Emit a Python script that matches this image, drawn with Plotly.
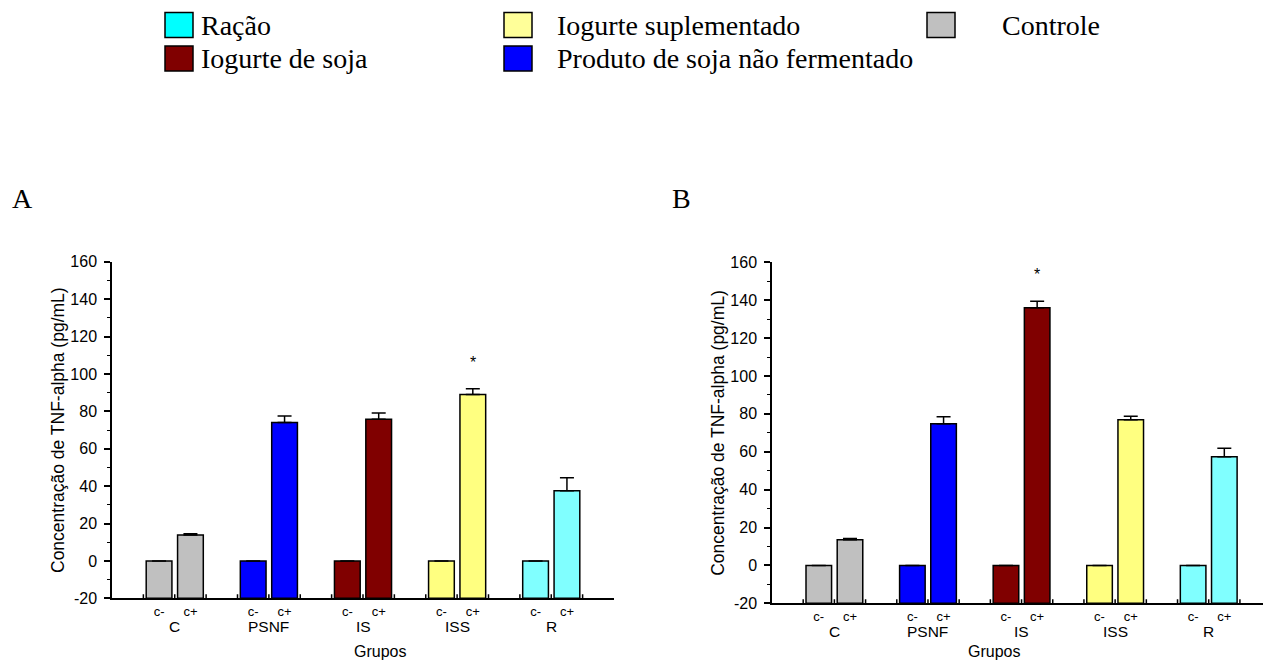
import plotly.graph_objects as go

# ---------------- data ----------------
groups = ["C", "PSNF", "IS", "ISS", "R"]
subgroups = ["c-", "c+"]
bar_colors = ["#C0C0C0", "#0000FF", "#800000", "#FFFF80", "#80FFFF"]

a_neg = [0, 0, 0, 0, 0]
a_pos = [13.8, 74.0, 75.8, 89.0, 37.5]
a_pos_err = [0.7, 3.5, 3.3, 3.0, 7.0]
a_star_group = "ISS"

b_neg = [0, 0, 0, 0, 0]
b_pos = [13.6, 74.8, 136.0, 76.9, 57.4]
b_pos_err = [0.6, 3.7, 3.5, 1.8, 4.5]
b_star_group = "IS"

y_base = -20
y_ticks = list(range(-20, 161, 20))
y_ticktext = [str(v) for v in y_ticks]  # plain hyphen for negatives

legend_labels = ["Ração", "Iogurte de soja", "Iogurte suplementado",
                 "Produto de soja não fermentado", "Controle"]
legend_colors = ["#00FFFF", "#800000", "#FFFF99", "#0000FF", "#C0C0C0"]

y_title = "Concentração de TNF-alpha (pg/mL)"
x_title = "Grupos"

# ---------------- layout helpers ----------------
W, H = 1263, 661
def px(x):
    return x / W
def py(y):
    return 1 - y / H

SANS = "Liberation Sans, Arial, sans-serif"
SERIF = "Liberation Serif, Times New Roman, serif"

fig = go.Figure()

panels = [
    dict(neg=a_neg, pos=a_pos, err=a_pos_err, star=a_star_group, xa="x", ya="y",
         xdom=[px(112), px(614)], ydom=[py(598.3), py(261.7)], xr=[0, 16],
         ytitle_x=58, grupos_x=352, grupos_shift=-53, label="A", label_x=22),
    dict(neg=b_neg, pos=b_pos, err=b_pos_err, star=b_star_group, xa="x2", ya="y2",
         xdom=[px(772), 1.0], ydom=[py(603.3), py(262.3)], xr=[0, 15.74],
         ytitle_x=718, grupos_x=1022, grupos_shift=-48, label="B", label_x=681),
]

shapes = []
annotations = []

for i, p in enumerate(panels):
    tickpos = []
    ticktext = []
    for g, name in enumerate(groups):
        xs = [3 * g + 1.5, 3 * g + 2.5]
        vals = [p["neg"][g], p["pos"][g]]
        errs = [0, p["err"][g]]
        fig.add_trace(go.Bar(
            x=xs, y=[v - y_base for v in vals], base=y_base,
            width=0.82, xaxis=p["xa"], yaxis=p["ya"], showlegend=False,
            marker=dict(color=bar_colors[g], line=dict(color="black", width=1.5)),
            error_y=dict(type="data", symmetric=False, array=errs,
                         arrayminus=[0, 0], color="black", thickness=1.5, width=7),
            name=name,
        ))
        tickpos += xs
        ticktext += subgroups
        # group crossing ticks
        for t in (3 * g + 1, 3 * g + 2, 3 * g + 3):
            shapes.append(dict(type="line", xref=p["xa"], yref=p["ya"],
                               x0=t, x1=t, ysizemode="pixel", yanchor=y_base,
                               y0=-5, y1=4, line=dict(color="black", width=1.5)))
        # group underline
        shapes.append(dict(type="line", xref=p["xa"], yref=p["ya"],
                           x0=3 * g + 1, x1=3 * g + 3, ysizemode="pixel",
                           yanchor=y_base, y0=-18, y1=-18,
                           line=dict(color="#333333", width=1.5)))
        annotations.append(dict(x=3 * g + 2, y=y_base, xref=p["xa"], yref=p["ya"],
                                text=name, showarrow=False, yanchor="top",
                                yshift=-18, font=dict(family=SANS, size=15.5, color="black")))
        if name == p["star"]:
            annotations.append(dict(x=3 * g + 2.5, y=vals[1] + errs[1], xref=p["xa"],
                                    yref=p["ya"], text="*", showarrow=False,
                                    yanchor="bottom", yshift=16,
                                    font=dict(family=SANS, size=16, color="black")))
    # minor x ticks between groups
    for g in range(len(groups) + 1):
        t = 3 * g + 0.5
        if t < p["xr"][1]:
            shapes.append(dict(type="line", xref=p["xa"], yref=p["ya"],
                               x0=t, x1=t, ysizemode="pixel", yanchor=y_base,
                               y0=-3, y1=0, line=dict(color="black", width=1)))

    xkey = "xaxis" if i == 0 else "xaxis2"
    ykey = "yaxis" if i == 0 else "yaxis2"
    fig.update_layout(**{
        xkey: dict(domain=p["xdom"], range=p["xr"], anchor=p["ya"], automargin=False,
                   showline=True, linecolor="black", linewidth=1.5,
                   tickmode="array", tickvals=tickpos, ticktext=ticktext, ticks="",
                   ticklabelstandoff=0,
                   tickfont=dict(family=SANS, size=13, color="black"),
                   showgrid=False, zeroline=False),
        ykey: dict(domain=p["ydom"], range=[-20, 160], anchor=p["xa"], automargin=False,
                   showline=True, linecolor="black", linewidth=1.5,
                   tickmode="array", tickvals=y_ticks, ticktext=y_ticktext,
                   ticks="outside", ticklen=6,
                   tickwidth=1.5, tickcolor="black", ticklabelstandoff=4,
                   minor=dict(tickmode="linear", tick0=-10, dtick=20, ticks="outside",
                              ticklen=3, tickwidth=1, tickcolor="black"),
                   tickfont=dict(family=SANS, size=16, color="black"),
                   showgrid=False, zeroline=False),
    })
    ymid = (p["ydom"][0] + p["ydom"][1]) / 2
    annotations.append(dict(x=px(p["ytitle_x"]), y=ymid, xref="paper", yref="paper",
                            text=y_title, textangle=-90, showarrow=False,
                            xanchor="center", yanchor="middle",
                            font=dict(family=SANS, size=17.5, color="black")))
    annotations.append(dict(x=px(p["grupos_x"]), y=y_base, xref="paper", yref=p["ya"],
                            text=x_title, showarrow=False, yanchor="middle",
                            yshift=p["grupos_shift"],
                            font=dict(family=SANS, size=16, color="black")))
    annotations.append(dict(x=px(p["label_x"]), y=py(198), xref="paper", yref="paper",
                            text=p["label"], showarrow=False, xanchor="center",
                            yanchor="middle", font=dict(family=SERIF, size=28, color="black")))

# ---------------- manual legend ----------------
legend_pos = [  # (box_left, row_center, text_left)
    (165, 25, 199),
    (165, 58.5, 199),
    (504, 25, 555),
    (504, 58.5, 555),
    (927, 25, 1000),
]
for lab, col, (bx, ry, tx) in zip(legend_labels, legend_colors, legend_pos):
    shapes.append(dict(type="rect", xref="paper", yref="paper",
                       x0=px(bx), x1=px(bx + 28), y0=py(ry + 12.5), y1=py(ry - 12.5),
                       fillcolor=col, line=dict(color="black", width=1.5)))
    annotations.append(dict(x=px(tx), y=py(ry), xref="paper", yref="paper",
                            text=lab, showarrow=False, xanchor="left", yanchor="middle",
                            font=dict(family=SERIF, size=28, color="black")))

fig.update_layout(
    width=W, height=H, margin=dict(l=0, r=0, t=0, b=0, autoexpand=False),
    paper_bgcolor="white", plot_bgcolor="white",
    barmode="overlay", showlegend=False,
    shapes=shapes, annotations=annotations,
)

fig.write_html(
    "out.html",
    config={"displayModeBar": False},
    post_script="document.body.style.margin='0px';"
                "document.body.style.overflow='hidden';"
                "document.documentElement.style.overflow='hidden';",
)
